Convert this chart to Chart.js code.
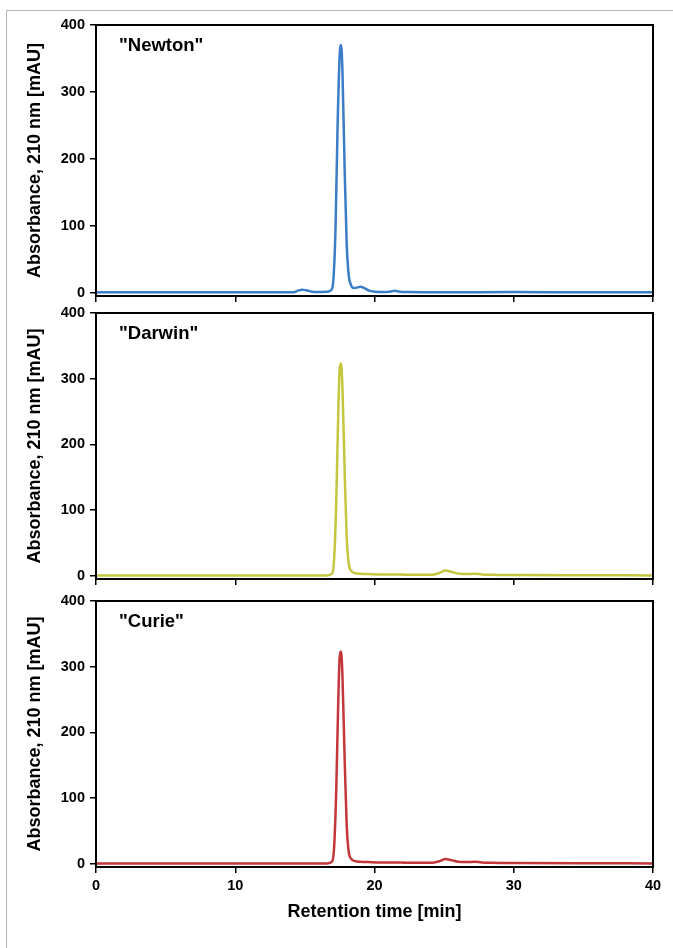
<!DOCTYPE html>
<html>
<head>
<meta charset="utf-8">
<script src="https://cdn.jsdelivr.net/npm/chart.js@4.4.1/dist/chart.umd.min.js"></script>
<style>
  html, body { margin: 0; padding: 0; background: #fff; }
  body { width: 673px; height: 948px; position: relative; overflow: hidden; }
  #frame { position: absolute; left: 6px; top: 10px; right: -2px; bottom: -2px;
           border-left: 1.5px solid #b4b4b4; border-top: 1.5px solid #b4b4b4; }
  .panel { position: absolute; left: 0; width: 673px; }
</style>
</head>
<body>
<div id="frame"></div>
<div class="panel" style="top:0px;height:311px"><canvas id="c-newton"></canvas></div>
<div class="panel" style="top:288px;height:306px"><canvas id="c-darwin"></canvas></div>
<div class="panel" style="top:576px;height:372px"><canvas id="c-curie"></canvas></div>
<script>
const X_TICKS = [0, 10, 20, 30, 40];
const Y_TICKS = [0, 100, 200, 300, 400];

// retention time [min], absorbance [mAU]
const newtonTime = [0, 14.2, 14.5, 14.8, 15.1, 15.5, 16.0, 16.6, 16.9, 17.05, 17.2, 17.35, 17.5, 17.6, 17.7, 17.85, 18.0, 18.15, 18.3, 18.5, 18.75, 19.0, 19.25, 19.6, 20.0, 20.6, 21.1, 21.45, 21.8, 22.4, 25, 30, 35, 40];
const newtonAbs  = [0.5, 0.5, 3, 4.5, 3.5, 1.5, 1, 1.5, 4, 20, 95, 250, 355, 370, 330, 190, 75, 26, 12, 7, 7.5, 9, 7, 3, 1.5, 1, 1.5, 3, 1.5, 0.8, 0.5, 0.8, 0.5, 0.5];

const darwinTime = [0, 16.6, 16.95, 17.1, 17.25, 17.4, 17.5, 17.6, 17.7, 17.85, 18.0, 18.15, 18.35, 18.6, 19.0, 19.6, 20.5, 21.5, 22.3, 23.5, 24.3, 24.7, 25.1, 25.5, 26.0, 26.6, 27.2, 27.7, 28.5, 30, 35, 40];
const darwinAbs  = [0.5, 0.5, 3, 25, 110, 250, 315, 323, 285, 165, 60, 18, 7, 4, 3, 2.5, 2, 2, 1.5, 1.5, 2, 4.5, 8, 6, 3.5, 2.5, 3, 2, 1.5, 1, 0.8, 0.5];

const curieTime  = [0, 16.6, 16.95, 17.1, 17.25, 17.4, 17.5, 17.6, 17.7, 17.85, 18.0, 18.15, 18.35, 18.6, 19.0, 19.6, 20.5, 21.5, 22.3, 23.5, 24.3, 24.7, 25.1, 25.5, 26.0, 26.6, 27.2, 27.7, 28.5, 30, 35, 40];
const curieAbs   = [0.5, 0.5, 3, 25, 110, 250, 315, 323, 285, 165, 60, 18, 7, 4, 3, 2.5, 2, 2, 1.5, 1.5, 2, 4, 7, 5.5, 3, 2.5, 3, 2, 1.5, 1, 0.8, 0.5];

const FONT = "'Liberation Sans', Arial, sans-serif";

const boxPlugin = {
  id: "box",
  afterDraw(chart, args, opts) {
    const { ctx, chartArea: a } = chart;
    ctx.save();
    ctx.strokeStyle = "#000";
    ctx.lineWidth = 2;
    ctx.strokeRect(a.left, a.top, a.right - a.left, a.bottom - a.top);
    ctx.fillStyle = "#000";
    ctx.font = `bold 18.5px ${FONT}`;
    ctx.textBaseline = "middle";
    ctx.fillText(opts.label, a.left + 23, a.top + 21);
    ctx.restore();
  },
};

function makePanel(id, label, time, abs, color, bottom) {
  const ctx = document.getElementById(id).getContext("2d");
  return new Chart(ctx, {
    type: "line",
    data: {
      datasets: [{
        data: time.map((t, i) => ({ x: t, y: abs[i] })),
        borderColor: color,
        borderWidth: 2.5,
        pointRadius: 0,
        cubicInterpolationMode: "monotone",
      }],
    },
    options: {
      responsive: true,
      maintainAspectRatio: false,
      animation: false,
      layout: { padding: { top: 25, right: 20, left: 0, bottom: 0 } },
      plugins: { legend: { display: false }, tooltip: { enabled: false }, box: { label } },
      scales: {
        x: {
          type: "linear",
          min: 0,
          max: 40,
          afterBuildTicks: (s) => { s.ticks = X_TICKS.map((v) => ({ value: v })); },
          afterFit: (s) => { s.height = bottom ? 81 : 15; },
          grid: { drawOnChartArea: false, drawTicks: true, tickLength: 6, color: "#000", lineWidth: 1.5 },
          border: { color: "#000", width: 2 },
          ticks: { display: bottom, color: "#000", padding: 4, font: { family: FONT, size: 14.5, weight: "bold" } },
          title: {
            display: bottom,
            text: "Retention time [min]",
            color: "#000",
            padding: { top: 0, bottom: 25 },
            font: { family: FONT, size: 18, weight: "bold" },
          },
        },
        y: {
          min: -5,
          max: 400,
          afterBuildTicks: (s) => { s.ticks = Y_TICKS.map((v) => ({ value: v })); },
          afterFit: (s) => { s.width = 96; },
          grid: { drawOnChartArea: false, drawTicks: true, tickLength: 6, color: "#000", lineWidth: 1.5 },
          border: { color: "#000", width: 2 },
          ticks: { color: "#000", padding: 5, font: { family: FONT, size: 14.5, weight: "bold" } },
          title: {
            display: true,
            text: "Absorbance, 210 nm [mAU]",
            color: "#000",
            padding: { top: 24, bottom: 0 },
            font: { family: FONT, size: 18, weight: "bold" },
          },
        },
      },
    },
    plugins: [boxPlugin],
  });
}

makePanel("c-newton", "\"Newton\"", newtonTime, newtonAbs, "#3b7dc6", false);
makePanel("c-darwin", "\"Darwin\"", darwinTime, darwinAbs, "#c4c63e", false);
makePanel("c-curie", "\"Curie\"", curieTime, curieAbs, "#c3373a", true);
</script>
</body>
</html>
